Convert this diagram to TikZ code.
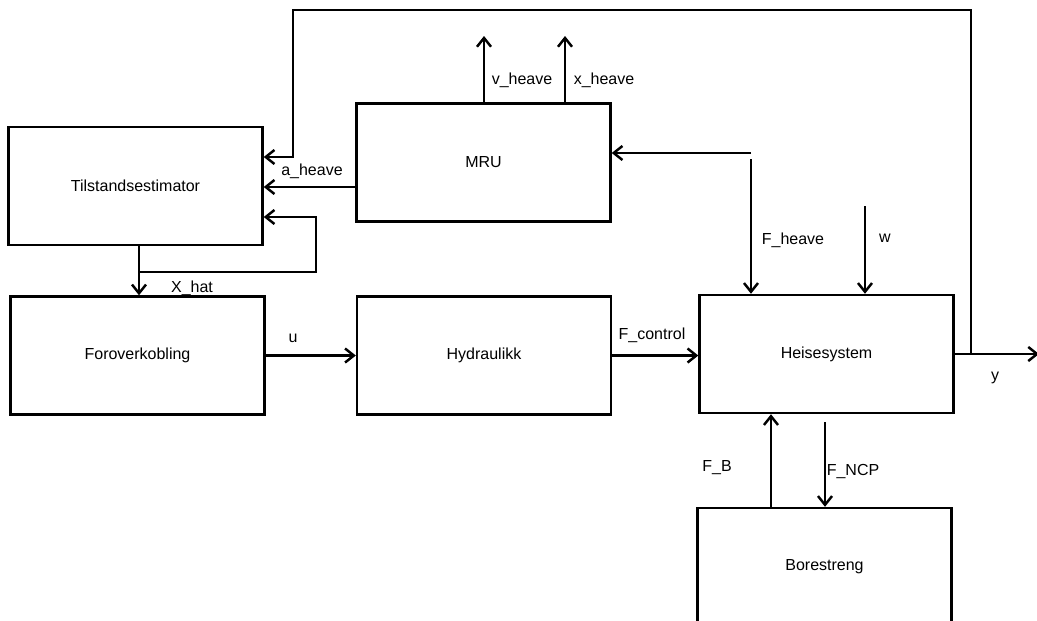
\documentclass[tikz,border=0pt]{standalone}
\usepackage{fontspec}
\setmainfont{Liberation Sans}
\usetikzlibrary{arrows.meta}
\begin{document}
\begin{tikzpicture}[x=0.02cm,y=-0.02cm,line width=1.4pt,
  pil/.style={-{Straight Barb[length=5pt,width=8pt]}},
  blokk/.style={draw,rectangle,line width=1.4pt,minimum width=5.08cm,minimum height=2.36cm,font=\fontsize{9.1}{11}\selectfont},
  merke/.style={font=\fontsize{9.1}{11}\selectfont,inner sep=1pt}]
\useasboundingbox (0,0) rectangle (1037,620);
\clip (0,0) rectangle (1037,620);
\foreach \navn/\tekst/\x/\y in {est/Tilstandsestimator/135.5/186, mru/MRU/483.5/162.5,
  ff/Foroverkobling/137.5/355.5, hyd/Hydraulikk/484/355.5,
  heis/Heisesystem/826.5/354, bore/Borestreng/824.5/567}
 \node[blokk] (\navn) at (\x,\y) {\tekst};
\coordinate (yj) at (971,354);
\coordinate (yut) at (1039,354);
\coordinate (topp) at (293,10);
\coordinate (aT) at (293,157);
\coordinate (aH) at (357,187);
\coordinate (xh) at (139,272);
\coordinate (xr) at (316,272);
\coordinate (xo) at (316,217);
\coordinate (vh) at (484,36);
\coordinate (xhv) at (565,36);
\coordinate (fh) at (751,153);
\coordinate (fh2) at (751,159);
\coordinate (w) at (865,206);
\coordinate (fb) at (771,0);
\coordinate (fn) at (825,422);
\draw[pil] (heis.east) -- (yut);
\draw[pil] (yj) |- (topp) -- (aT) -- (est.east |- aT);
\draw[pil] (mru.west |- aH) -- (est.east |- aH);
\draw[pil] (xh |- est.south) -- (xh |- ff.north);
\draw[pil] (xh) -- (xr) -- (xo) -- (est.east |- xo);
\draw[pil] (mru.north -| vh) -- (vh);
\draw[pil] (mru.north -| xhv) -- (xhv);
\draw[pil] (fh) -- (mru.east |- fh);
\draw[pil] (fh2) -- (heis.north -| fh2);
\draw[pil] (w) -- (heis.north -| w);
\draw[pil] (ff.east) -- (hyd.west);
\draw[pil] (hyd.east) -- (heis.west |- hyd.east);
\draw[pil] (bore.north -| fb) -- (heis.south -| fb);
\draw[pil] (fn) -- (bore.north -| fn);
\node[merke] (lah) at (312,171) {a\_heave};
\node[merke] (lvh) at (522,80) {v\_heave};
\node[merke] (lxh) at (604,80) {x\_heave};
\node[merke] (lxhat) at (192,288) {X\_hat};
\node[merke] (lu) at (293,338) {u};
\node[merke] (lfc) at (652,335) {F\_control};
\node[merke] (lfh) at (793,240) {F\_heave};
\node[merke] (lw) at (885,238) {w};
\node[merke] (ly) at (995,378) {y};
\node[merke] (lfb) at (717,468) {F\_B};
\node[merke] (lfn) at (853,471) {F\_NCP};
\end{tikzpicture}
\end{document}
